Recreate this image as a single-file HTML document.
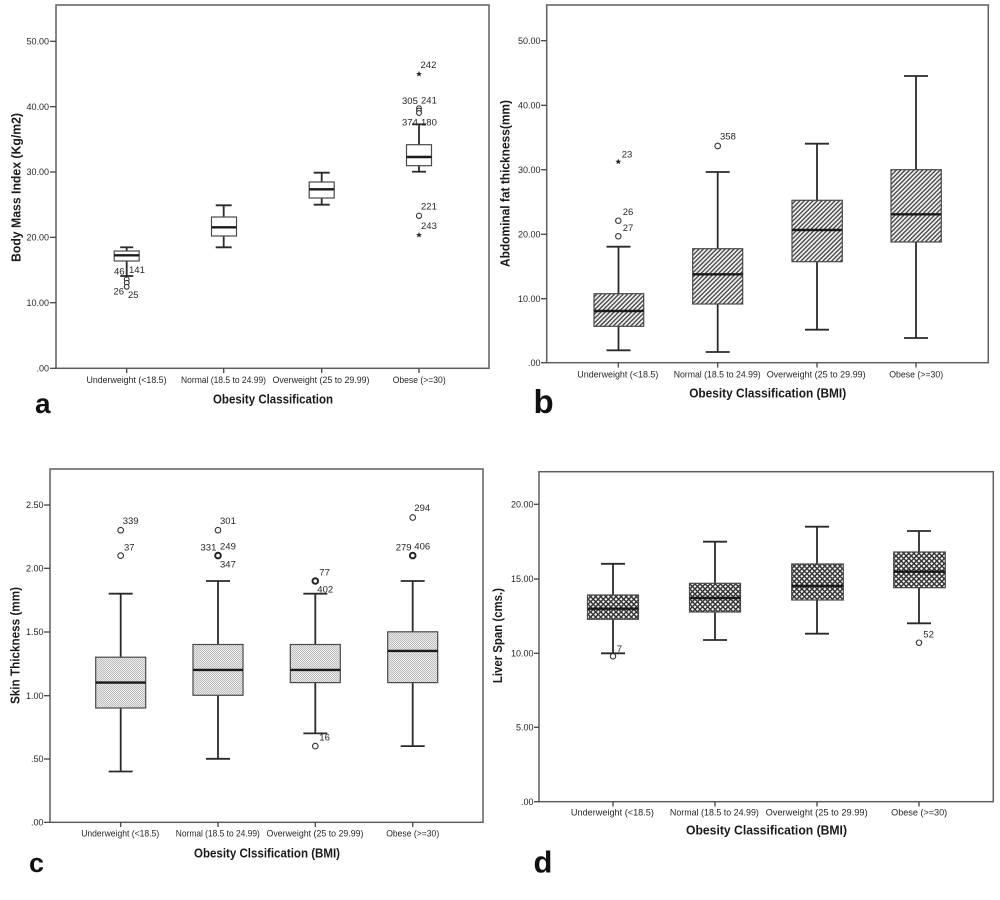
<!DOCTYPE html>
<html><head><meta charset="utf-8"><style>
html,body{margin:0;padding:0;background:#fff;}
svg{display:block;}
text{font-family:"Liberation Sans",Arial,sans-serif;}
.tk{font-size:9px;fill:#262626;}
.ol{font-size:9.5px;fill:#262626;}
.ti{font-size:12.5px;font-weight:bold;fill:#1a1a1a;}
.pl{font-weight:bold;fill:#111;}
.fr{fill:none;stroke:#5f5f5f;stroke-width:1.5;}
.ax{stroke:#444;stroke-width:1.3;}
.wh{stroke:#2a2a2a;stroke-width:1.8;fill:none;}
.bx{stroke:#4a4a4a;stroke-width:1.2;}
.md{stroke:#1a1a1a;stroke-width:2.4;}
.oc{fill:#fff;stroke:#333;stroke-width:1.1;}
.ob{fill:#fff;stroke:#222;stroke-width:2;}
</style></head><body>
<svg width="1000" height="900" viewBox="0 0 1000 900" xmlns="http://www.w3.org/2000/svg">
<defs>
<pattern id="hatch" width="3.1" height="3.1" patternUnits="userSpaceOnUse" patternTransform="rotate(45)">
<rect width="3.1" height="3.1" fill="#f4f4f4"/>
<line x1="0.8" y1="0" x2="0.8" y2="3.1" stroke="#3c3c3c" stroke-width="1.3"/>
</pattern>
<pattern id="cross" width="3.6" height="3.6" patternUnits="userSpaceOnUse" patternTransform="rotate(45)">
<rect width="3.6" height="3.6" fill="#f2f2f2"/>
<line x1="0.7" y1="0" x2="0.7" y2="3.6" stroke="#333" stroke-width="1.4"/>
<line x1="0" y1="0.7" x2="3.6" y2="0.7" stroke="#333" stroke-width="1.4"/>
</pattern>
<pattern id="dots" width="2" height="2" patternUnits="userSpaceOnUse">
<rect width="2" height="2" fill="#ececec"/>
<rect width="1" height="1" fill="#bdbdbd"/>
<rect x="1" y="1" width="1" height="1" fill="#bdbdbd"/>
</pattern>
<path id="star" d="M0,-3 L0.9,-0.9 L3,-0.9 L1.3,0.4 L1.9,2.6 L0,1.3 L-1.9,2.6 L-1.3,0.4 L-3,-0.9 L-0.9,-0.9 Z" fill="#222"/>
</defs>

<!-- ================= PANEL A ================= -->
<rect class="fr" x="56" y="5" width="433" height="363.3"/>
<g class="ax">
<line x1="50" y1="41.3" x2="56" y2="41.3"/><line x1="50" y1="106.7" x2="56" y2="106.7"/>
<line x1="50" y1="172" x2="56" y2="172"/><line x1="50" y1="237.3" x2="56" y2="237.3"/>
<line x1="50" y1="302.7" x2="56" y2="302.7"/><line x1="50" y1="368.3" x2="56" y2="368.3"/>
<line x1="126.7" y1="368.3" x2="126.7" y2="373"/><line x1="223.7" y1="368.3" x2="223.7" y2="373"/>
<line x1="321.7" y1="368.3" x2="321.7" y2="373"/><line x1="419" y1="368.3" x2="419" y2="373"/>
</g>
<g class="tk" text-anchor="end">
<text x="49" y="44.5">50.00</text><text x="49" y="109.9">40.00</text><text x="49" y="175.2">30.00</text>
<text x="49" y="240.5">20.00</text><text x="49" y="305.9">10.00</text><text x="49" y="371.5">.00</text>
</g>
<g class="tk" text-anchor="middle">
<text x="126.5" y="383" textLength="80" lengthAdjust="spacingAndGlyphs">Underweight (&lt;18.5)</text>
<text x="223.5" y="383" textLength="85" lengthAdjust="spacingAndGlyphs">Normal (18.5 to 24.99)</text>
<text x="321" y="383" textLength="97" lengthAdjust="spacingAndGlyphs">Overweight (25 to 29.99)</text>
<text x="419.2" y="383" textLength="53" lengthAdjust="spacingAndGlyphs">Obese (&gt;=30)</text>
</g>
<text class="ti" x="273" y="403.5" text-anchor="middle" textLength="120" lengthAdjust="spacingAndGlyphs">Obesity Classification</text>
<text class="ti" transform="translate(20.5,187.5) rotate(-90)" text-anchor="middle" textLength="149" lengthAdjust="spacingAndGlyphs">Body Mass Index (Kg/m2)</text>
<text class="pl" x="35" y="413" style="font-size:28px">a</text>
<g>
<line class="wh" x1="126.7" y1="247.3" x2="126.7" y2="276"/>
<line class="wh" x1="120.2" y1="247.3" x2="133.2" y2="247.3"/><line class="wh" x1="120.2" y1="276" x2="133.2" y2="276"/>
<rect class="bx" x="114.2" y="251" width="25" height="10" fill="#fff"/>
<line class="md" x1="114.2" y1="255.3" x2="139.2" y2="255.3"/>
<circle class="oc" cx="126.7" cy="279.3" r="2.4"/><circle class="oc" cx="126.7" cy="282.8" r="2.4"/><circle class="oc" cx="126.7" cy="286.8" r="2.4"/>
<line class="wh" x1="223.7" y1="205.3" x2="223.7" y2="247.3"/>
<line class="wh" x1="215.7" y1="205.3" x2="231.7" y2="205.3"/><line class="wh" x1="215.7" y1="247.3" x2="231.7" y2="247.3"/>
<rect class="bx" x="211.5" y="217" width="25" height="19" fill="#fff"/>
<line class="md" x1="211.5" y1="227.3" x2="236.5" y2="227.3"/>
<line class="wh" x1="321.7" y1="172.7" x2="321.7" y2="204.7"/>
<line class="wh" x1="313.7" y1="172.7" x2="329.7" y2="172.7"/><line class="wh" x1="313.7" y1="204.7" x2="329.7" y2="204.7"/>
<rect class="bx" x="309.2" y="182" width="25" height="16" fill="#fff"/>
<line class="md" x1="309.2" y1="189.3" x2="334.2" y2="189.3"/>
<line class="wh" x1="419" y1="124.3" x2="419" y2="171.7"/>
<line class="wh" x1="412" y1="124.3" x2="426" y2="124.3"/><line class="wh" x1="412" y1="171.7" x2="426" y2="171.7"/>
<rect class="bx" x="406.5" y="144.7" width="25" height="21" fill="#fff"/>
<line class="md" x1="406.5" y1="157" x2="431.5" y2="157"/>
<circle class="oc" cx="419" cy="108.2" r="2.4"/><circle class="oc" cx="419" cy="110.6" r="2.4"/><circle class="oc" cx="419" cy="113" r="2.4"/>
<circle class="oc" cx="419" cy="215.8" r="2.6"/>
<use href="#star" x="419" y="74"/><use href="#star" x="419" y="235"/>
</g>
<g class="ol">
<text x="114" y="274.5">46</text><text x="129" y="273">141</text>
<text x="113.5" y="294.5">26</text><text x="128" y="298">25</text>
<text x="420.5" y="68">242</text><text x="402" y="104">305</text><text x="421" y="103.5">241</text>
<text x="402" y="125.7">374</text><text x="421" y="125.5">180</text>
<text x="421" y="209.3">221</text><text x="421" y="229">243</text>
</g>

<!-- ================= PANEL B ================= -->
<rect class="fr" x="546.7" y="5" width="441.6" height="357.7"/>
<g class="ax">
<line x1="541" y1="40.7" x2="546.7" y2="40.7"/><line x1="541" y1="105.3" x2="546.7" y2="105.3"/>
<line x1="541" y1="169.7" x2="546.7" y2="169.7"/><line x1="541" y1="234.3" x2="546.7" y2="234.3"/>
<line x1="541" y1="298.7" x2="546.7" y2="298.7"/><line x1="541" y1="362.7" x2="546.7" y2="362.7"/>
<line x1="618.3" y1="362.7" x2="618.3" y2="367.5"/><line x1="717.7" y1="362.7" x2="717.7" y2="367.5"/>
<line x1="817" y1="362.7" x2="817" y2="367.5"/><line x1="916" y1="362.7" x2="916" y2="367.5"/>
</g>
<g class="tk" text-anchor="end">
<text x="540.5" y="43.9">50.00</text><text x="540.5" y="108.5">40.00</text><text x="540.5" y="172.9">30.00</text>
<text x="540.5" y="237.5">20.00</text><text x="540.5" y="301.9">10.00</text><text x="540.5" y="365.9">.00</text>
</g>
<g class="tk" text-anchor="middle">
<text x="617.8" y="377.7" textLength="81" lengthAdjust="spacingAndGlyphs">Underweight (&lt;18.5)</text>
<text x="717.2" y="377.7" textLength="87" lengthAdjust="spacingAndGlyphs">Normal (18.5 to 24.99)</text>
<text x="816.2" y="377.7" textLength="99" lengthAdjust="spacingAndGlyphs">Overweight (25 to 29.99)</text>
<text x="916.2" y="377.7" textLength="54" lengthAdjust="spacingAndGlyphs">Obese (&gt;=30)</text>
</g>
<text class="ti" x="767.7" y="397.7" text-anchor="middle" textLength="157" lengthAdjust="spacingAndGlyphs">Obesity Classification (BMI)</text>
<text class="ti" transform="translate(509.5,183.5) rotate(-90)" text-anchor="middle" textLength="167" lengthAdjust="spacingAndGlyphs">Abdominal fat thickness(mm)</text>
<text class="pl" x="533.5" y="413" style="font-size:33px">b</text>
<g>
<line class="wh" x1="618.5" y1="246.7" x2="618.5" y2="350.3"/>
<line class="wh" x1="606.5" y1="246.7" x2="630.5" y2="246.7"/><line class="wh" x1="606.5" y1="350.3" x2="630.5" y2="350.3"/>
<rect class="bx" x="594" y="293.7" width="49.7" height="32.6" fill="url(#hatch)"/>
<line class="md" x1="594" y1="311" x2="643.7" y2="311"/>
<use href="#star" x="618.3" y="161.7"/>
<circle class="oc" cx="618.3" cy="220.7" r="2.7"/><circle class="oc" cx="618.3" cy="236.3" r="2.7"/>
<line class="wh" x1="717.7" y1="172" x2="717.7" y2="352"/>
<line class="wh" x1="705.7" y1="172" x2="729.7" y2="172"/><line class="wh" x1="705.7" y1="352" x2="729.7" y2="352"/>
<rect class="bx" x="692.7" y="248.7" width="50" height="55.3" fill="url(#hatch)"/>
<line class="md" x1="692.7" y1="274.3" x2="742.7" y2="274.3"/>
<circle class="oc" cx="717.7" cy="146" r="2.8"/>
<line class="wh" x1="817" y1="143.7" x2="817" y2="329.7"/>
<line class="wh" x1="805" y1="143.7" x2="829" y2="143.7"/><line class="wh" x1="805" y1="329.7" x2="829" y2="329.7"/>
<rect class="bx" x="792" y="200.3" width="50.3" height="61.4" fill="url(#hatch)"/>
<line class="md" x1="792" y1="230" x2="842.3" y2="230"/>
<line class="wh" x1="916" y1="76" x2="916" y2="338"/>
<line class="wh" x1="904" y1="76" x2="928" y2="76"/><line class="wh" x1="904" y1="338" x2="928" y2="338"/>
<rect class="bx" x="891" y="169.7" width="50.3" height="72.3" fill="url(#hatch)"/>
<line class="md" x1="891" y1="214.3" x2="941.3" y2="214.3"/>
</g>
<g class="ol">
<text x="621.7" y="157.5">23</text><text x="622.7" y="215">26</text><text x="622.7" y="231">27</text>
<text x="720" y="139.3">358</text>
</g>

<!-- ================= PANEL C ================= -->
<rect class="fr" x="50" y="469" width="433" height="353.3"/>
<g class="ax">
<line x1="44" y1="505" x2="50" y2="505"/><line x1="44" y1="568.3" x2="50" y2="568.3"/>
<line x1="44" y1="632" x2="50" y2="632"/><line x1="44" y1="695.7" x2="50" y2="695.7"/>
<line x1="44" y1="759" x2="50" y2="759"/><line x1="44" y1="822.3" x2="50" y2="822.3"/>
<line x1="120.7" y1="822.3" x2="120.7" y2="827"/><line x1="218" y1="822.3" x2="218" y2="827"/>
<line x1="315.3" y1="822.3" x2="315.3" y2="827"/><line x1="412.7" y1="822.3" x2="412.7" y2="827"/>
</g>
<g class="tk" text-anchor="end">
<text x="43.5" y="508.2">2.50</text><text x="43.5" y="571.5">2.00</text><text x="43.5" y="635.2">1.50</text>
<text x="43.5" y="698.9">1.00</text><text x="43.5" y="762.2">.50</text><text x="43.5" y="825.5">.00</text>
</g>
<g class="tk" text-anchor="middle">
<text x="120.2" y="836.7" textLength="78" lengthAdjust="spacingAndGlyphs">Underweight (&lt;18.5)</text>
<text x="217.8" y="836.7" textLength="84" lengthAdjust="spacingAndGlyphs">Normal (18.5 to 24.99)</text>
<text x="315" y="836.7" textLength="97" lengthAdjust="spacingAndGlyphs">Overweight (25 to 29.99)</text>
<text x="412.7" y="836.7" textLength="53" lengthAdjust="spacingAndGlyphs">Obese (&gt;=30)</text>
</g>
<text class="ti" x="267" y="857.3" text-anchor="middle" textLength="146" lengthAdjust="spacingAndGlyphs">Obesity Clssification (BMI)</text>
<text class="ti" transform="translate(19.5,645.5) rotate(-90)" text-anchor="middle" textLength="117" lengthAdjust="spacingAndGlyphs">Skin Thickness (mm)</text>
<text class="pl" x="29" y="872" style="font-size:27px">c</text>
<g>
<line class="wh" x1="120.7" y1="593.7" x2="120.7" y2="771.5"/>
<line class="wh" x1="108.7" y1="593.7" x2="132.7" y2="593.7"/><line class="wh" x1="108.7" y1="771.5" x2="132.7" y2="771.5"/>
<rect class="bx" x="95.7" y="657.2" width="50" height="50.8" fill="url(#dots)"/>
<line class="md" x1="95.7" y1="682.6" x2="145.7" y2="682.6"/>
<circle class="oc" cx="120.7" cy="530.2" r="2.8"/><circle class="oc" cx="120.7" cy="555.6" r="2.8"/>
<line class="wh" x1="218" y1="581" x2="218" y2="758.8"/>
<line class="wh" x1="206" y1="581" x2="230" y2="581"/><line class="wh" x1="206" y1="758.8" x2="230" y2="758.8"/>
<rect class="bx" x="193" y="644.5" width="50" height="50.8" fill="url(#dots)"/>
<line class="md" x1="193" y1="669.9" x2="243" y2="669.9"/>
<circle class="oc" cx="218" cy="530.2" r="2.8"/><circle class="ob" cx="218" cy="555.6" r="2.8"/>
<line class="wh" x1="315.3" y1="593.7" x2="315.3" y2="733.4"/>
<line class="wh" x1="303.3" y1="593.7" x2="327.3" y2="593.7"/><line class="wh" x1="303.3" y1="733.4" x2="327.3" y2="733.4"/>
<rect class="bx" x="290.3" y="644.5" width="50" height="38.1" fill="url(#dots)"/>
<line class="md" x1="290.3" y1="669.9" x2="340.3" y2="669.9"/>
<circle class="ob" cx="315.3" cy="581" r="2.8"/><circle class="oc" cx="315.3" cy="746.1" r="2.8"/>
<line class="wh" x1="412.7" y1="581" x2="412.7" y2="746.1"/>
<line class="wh" x1="400.7" y1="581" x2="424.7" y2="581"/><line class="wh" x1="400.7" y1="746.1" x2="424.7" y2="746.1"/>
<rect class="bx" x="387.7" y="631.8" width="50" height="50.8" fill="url(#dots)"/>
<line class="md" x1="387.7" y1="650.9" x2="437.7" y2="650.9"/>
<circle class="oc" cx="412.7" cy="517.5" r="2.8"/><circle class="ob" cx="412.7" cy="555.6" r="2.8"/>
</g>
<g class="ol">
<text x="122.7" y="524">339</text><text x="124" y="550.7">37</text>
<text x="220" y="524">301</text><text x="200.5" y="550.7">331</text><text x="220" y="549.3">249</text><text x="220" y="567.7">347</text>
<text x="319.3" y="575.7">77</text><text x="317.3" y="592.7">402</text><text x="319.3" y="740.7">16</text>
<text x="414.3" y="511">294</text><text x="395.7" y="550.7">279</text><text x="414.3" y="549.3">406</text>
</g>

<!-- ================= PANEL D ================= -->
<rect class="fr" x="539" y="471.7" width="454.3" height="330"/>
<g class="ax">
<line x1="534" y1="504.3" x2="539" y2="504.3"/><line x1="534" y1="579" x2="539" y2="579"/>
<line x1="534" y1="653.3" x2="539" y2="653.3"/><line x1="534" y1="727.3" x2="539" y2="727.3"/>
<line x1="534" y1="801.7" x2="539" y2="801.7"/>
<line x1="613" y1="801.7" x2="613" y2="806.5"/><line x1="715" y1="801.7" x2="715" y2="806.5"/>
<line x1="817" y1="801.7" x2="817" y2="806.5"/><line x1="919" y1="801.7" x2="919" y2="806.5"/>
</g>
<g class="tk" text-anchor="end">
<text x="533.5" y="507.5">20.00</text><text x="533.5" y="582.2">15.00</text><text x="533.5" y="656.5">10.00</text>
<text x="533.5" y="730.5">5.00</text><text x="533.5" y="804.9">.00</text>
</g>
<g class="tk" text-anchor="middle">
<text x="612.4" y="815.7" textLength="83" lengthAdjust="spacingAndGlyphs">Underweight (&lt;18.5)</text>
<text x="714.4" y="815.7" textLength="89" lengthAdjust="spacingAndGlyphs">Normal (18.5 to 24.99)</text>
<text x="816.7" y="815.7" textLength="102" lengthAdjust="spacingAndGlyphs">Overweight (25 to 29.99)</text>
<text x="919.2" y="815.7" textLength="56" lengthAdjust="spacingAndGlyphs">Obese (&gt;=30)</text>
</g>
<text class="ti" x="766.5" y="834.5" text-anchor="middle" textLength="161" lengthAdjust="spacingAndGlyphs">Obesity Classification (BMI)</text>
<text class="ti" transform="translate(502,635.6) rotate(-90)" text-anchor="middle" textLength="95" lengthAdjust="spacingAndGlyphs">Liver Span (cms.)</text>
<text class="pl" x="533.5" y="872.7" style="font-size:31px">d</text>
<g>
<line class="wh" x1="613" y1="563.8" x2="613" y2="653.3"/>
<line class="wh" x1="601" y1="563.8" x2="625" y2="563.8"/><line class="wh" x1="601" y1="653.3" x2="625" y2="653.3"/>
<rect class="bx" x="587.5" y="595" width="51" height="24.3" fill="url(#cross)"/>
<line class="md" x1="587.5" y1="608.7" x2="638.5" y2="608.7"/>
<circle class="oc" cx="613" cy="656.3" r="2.7"/>
<line class="wh" x1="715" y1="541.7" x2="715" y2="640"/>
<line class="wh" x1="703" y1="541.7" x2="727" y2="541.7"/><line class="wh" x1="703" y1="640" x2="727" y2="640"/>
<rect class="bx" x="689.5" y="583.3" width="51" height="28.7" fill="url(#cross)"/>
<line class="md" x1="689.5" y1="598" x2="740.5" y2="598"/>
<line class="wh" x1="817" y1="526.7" x2="817" y2="633.7"/>
<line class="wh" x1="805" y1="526.7" x2="829" y2="526.7"/><line class="wh" x1="805" y1="633.7" x2="829" y2="633.7"/>
<rect class="bx" x="791.7" y="564" width="51.6" height="36" fill="url(#cross)"/>
<line class="md" x1="791.7" y1="586" x2="843.3" y2="586"/>
<line class="wh" x1="919" y1="531" x2="919" y2="623.3"/>
<line class="wh" x1="907" y1="531" x2="931" y2="531"/><line class="wh" x1="907" y1="623.3" x2="931" y2="623.3"/>
<rect class="bx" x="893.7" y="552" width="51.6" height="35.7" fill="url(#cross)"/>
<line class="md" x1="893.7" y1="571.7" x2="945.3" y2="571.7"/>
<circle class="oc" cx="919" cy="642.7" r="2.7"/>
</g>
<g class="ol">
<text x="616.7" y="652">7</text><text x="923.3" y="637.7">52</text>
</g>
</svg>
</body></html>
